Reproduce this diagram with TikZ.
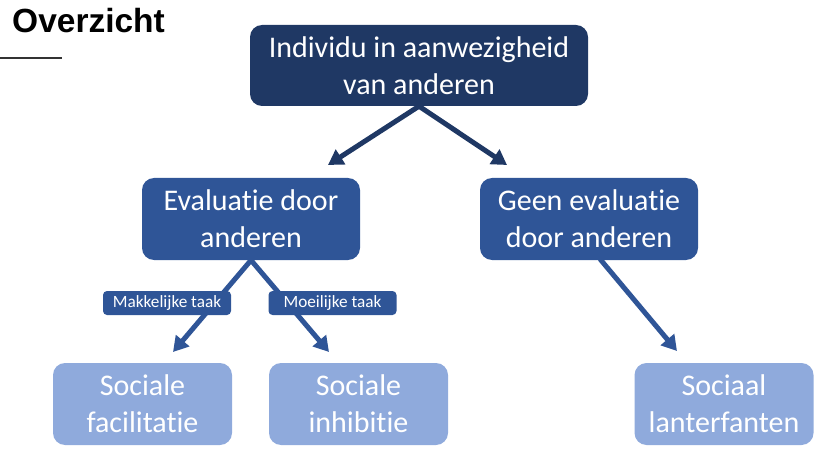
\documentclass[tikz,border=0pt]{standalone}
\usepackage{fontspec}
\setmainfont{Carlito}[Ligatures=NoCommon]
\newfontfamily\titlefont{Liberation Sans}
\usetikzlibrary{arrows.meta}
\definecolor{navy}{RGB}{31,56,100}
\definecolor{midblue}{RGB}{47,85,151}
\definecolor{lightblue}{RGB}{143,170,220}
\definecolor{rulegray}{RGB}{50,50,50}
\begin{document}
\begin{tikzpicture}[x=1pt,y=-1pt,
  box/.style={rounded corners=12pt, text=white, align=center, inner sep=0pt,
    font=\fontsize{30}{37}\selectfont},
  topbox/.style={box, fill=navy, minimum width=338pt, minimum height=81pt},
  midbox/.style={box, fill=midblue, minimum width=218pt, minimum height=82pt},
  lowbox/.style={box, fill=lightblue, minimum width=179pt, minimum height=82pt},
  tag/.style={rounded corners=4pt, fill=midblue, text=white, inner sep=0pt,
    minimum width=128pt, minimum height=24pt, font=\fontsize{17.2}{18}\selectfont},
  arr/.style={line width=5pt, -{Triangle[length=15pt,width=17pt]}},
]
\useasboundingbox (0,0) rectangle (838,465);
\node[font=\titlefont\bfseries\fontsize{33.5}{36}\selectfont, anchor=base west, inner sep=0pt] (title) at (12,33) {Overzicht};
\draw[rulegray, line width=2pt] (0,58) -- (62,58);

\node[topbox] (top) at (419,65.5) {Individu in aanwezigheid\\van anderen};
\node[midbox] (eval) at (251,219) {Evaluatie door\\anderen};
\node[midbox] (geen) at (589,219) {Geen evaluatie\\door anderen};
\node[lowbox] (fac) at (142.5,404) {Sociale\\facilitatie};
\node[lowbox] (inh) at (358.5,404) {Sociale\\inhibitie};
\node[lowbox] (lan) at (724,404) {Sociaal\\lanterfanten};

\coordinate (t1) at (328,165);
\coordinate (t2) at (507,165);
\coordinate (e1) at (173,352);
\coordinate (e2) at (329,352);
\coordinate (g0) at (600,259);
\coordinate (g1) at (677,351);

\draw[arr, navy] (top.south) -- (t1);
\draw[arr, navy] (top.south) -- (t2);
\draw[arr, midblue] (eval.south) -- (e1);
\draw[arr, midblue] (eval.south) -- (e2);
\draw[arr, midblue] (g0) -- (g1);

\node[tag] (easy) at (167,303) {Makkelijke taak};
\node[tag] (hard) at (332.5,303) {Moeilijke taak};
\end{tikzpicture}
\end{document}
